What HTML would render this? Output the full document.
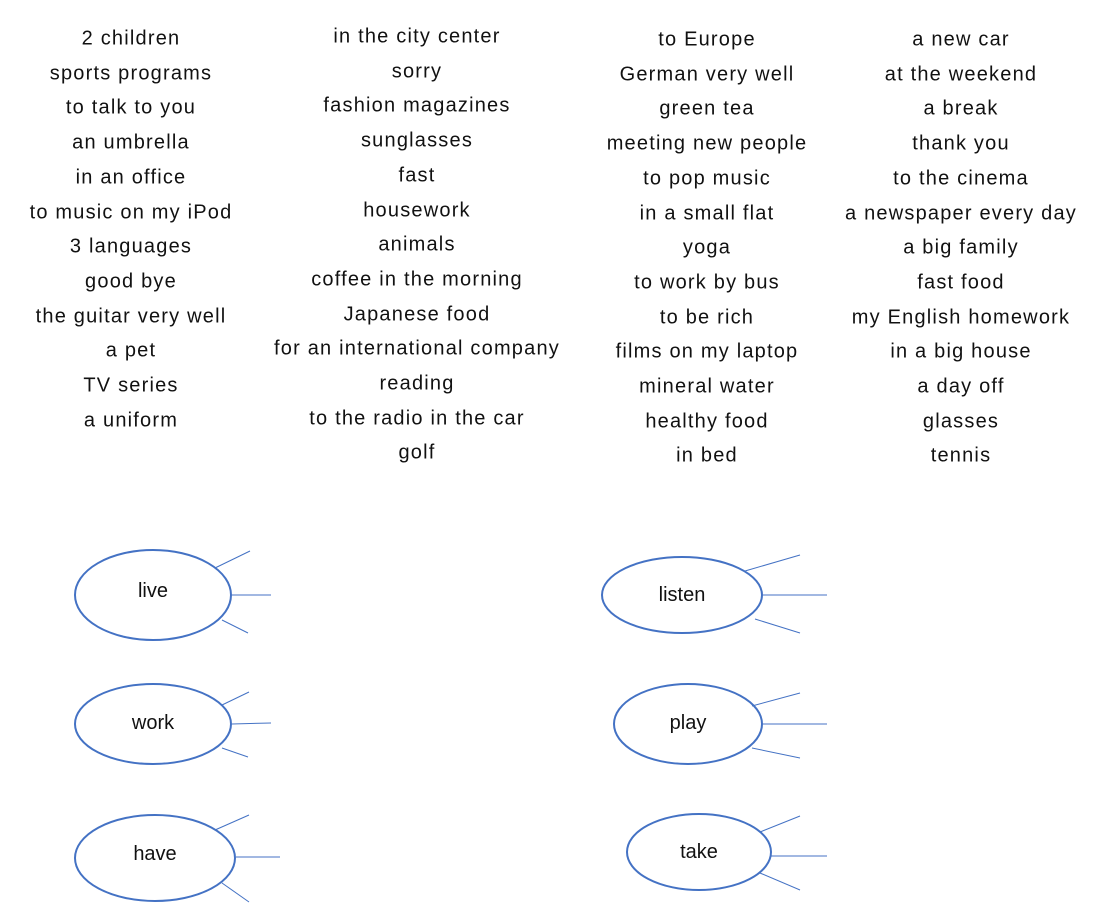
<!DOCTYPE html>
<html><head><meta charset="utf-8"><style>
html,body{margin:0;padding:0;background:#fff;}
body{width:1116px;height:923px;position:relative;overflow:hidden;font-family:"Liberation Sans",sans-serif;}
.w{position:absolute;transform:translate(-50%,-50%);white-space:nowrap;font-size:20px;color:#111;letter-spacing:1.2px;}
svg{position:absolute;left:0;top:0;}
</style></head><body>
<div id="words"></div>
<svg width="1116" height="923">
<g fill="none" stroke="#4472c4">
<g>
<ellipse cx="153" cy="595" rx="78" ry="45" stroke-width="2"/>
<line x1="215" y1="568" x2="250" y2="551"/><line x1="232" y1="595" x2="271" y2="595"/><line x1="222" y1="620" x2="248" y2="633"/></g>
<g>
<ellipse cx="153" cy="724" rx="78" ry="40" stroke-width="2"/>
<line x1="222" y1="705" x2="249" y2="692"/><line x1="232" y1="724" x2="271" y2="723"/><line x1="222" y1="748" x2="248" y2="757"/></g>
<g>
<ellipse cx="155" cy="858" rx="80" ry="43" stroke-width="2"/>
<line x1="215" y1="830" x2="249" y2="815"/><line x1="236" y1="857" x2="280" y2="857"/><line x1="222" y1="883" x2="249" y2="902"/></g>
<g>
<ellipse cx="682" cy="595" rx="80" ry="38" stroke-width="2"/>
<line x1="745" y1="571" x2="800" y2="555"/><line x1="762" y1="595" x2="827" y2="595"/><line x1="755" y1="619" x2="800" y2="633"/></g>
<g>
<ellipse cx="688" cy="724" rx="74" ry="40" stroke-width="2"/>
<line x1="752" y1="706" x2="800" y2="693"/><line x1="762" y1="724" x2="827" y2="724"/><line x1="752" y1="748" x2="800" y2="758"/></g>
<g>
<ellipse cx="699" cy="852" rx="72" ry="38" stroke-width="2"/>
<line x1="760" y1="832" x2="800" y2="816"/><line x1="771" y1="856" x2="827" y2="856"/><line x1="760" y1="873" x2="800" y2="890"/></g>
</g>
<g font-family="Liberation Sans, sans-serif" font-size="20" fill="#111" text-anchor="middle">
<text x="153" y="597">live</text>
<text x="153" y="729">work</text>
<text x="155" y="860">have</text>
<text x="682" y="601">listen</text>
<text x="688" y="729">play</text>
<text x="699" y="858">take</text>
</g>
</svg>
<script>
const col1=["2 children","sports programs","to talk to you","an umbrella","in an office","to music on my iPod","3 languages","good bye","the guitar very well","a pet","TV series","a uniform"];
const col2=["in the city center","sorry","fashion magazines","sunglasses","fast","housework","animals","coffee in the morning","Japanese food","for an international company","reading","to the radio in the car","golf"];
const col3=["to Europe","German very well","green tea","meeting new people","to pop music","in a small flat","yoga","to work by bus","to be rich","films on my laptop","mineral water","healthy food","in bed"];
const col4=["a new car","at the weekend","a break","thank you","to the cinema","a newspaper every day","a big family","fast food","my English homework","in a big house","a day off","glasses","tennis"];
const cols=[[col1,131,39],[col2,417,37],[col3,707,40],[col4,961,40]];
const host=document.getElementById('words');
cols.forEach(([list,cx,y0],ci)=>{
  list.forEach((t,i)=>{
    const d=document.createElement('div');
    d.className='w';
    
    
    d.style.left=cx+'px';
    d.style.top=(y0+i*34.7)+'px';
    d.textContent=t;
    host.appendChild(d);
  });
});
</script>
</body></html>
